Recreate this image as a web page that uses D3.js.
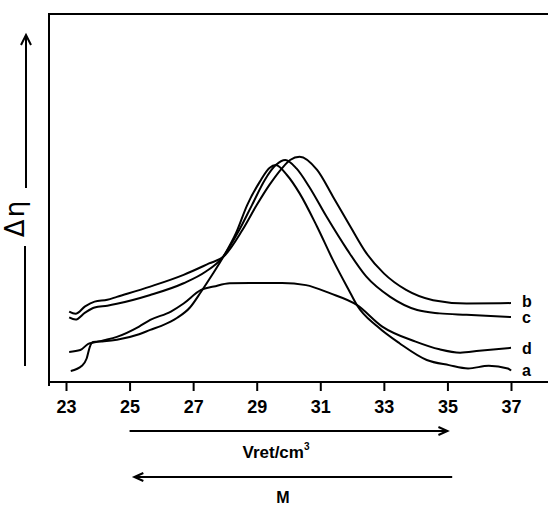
<!DOCTYPE html>
<html>
<head>
<meta charset="utf-8">
<script src="https://cdn.jsdelivr.net/npm/d3@7/dist/d3.min.js"></script>
<style>
  body { margin: 0; background: #fff; }
  text { font-family: "Liberation Sans", Arial, sans-serif; fill: #000; }
</style>
</head>
<body>
<div id="myChart"></div>
<script>

// Retention volume ticks (cm3)
var xTicks = [23, 25, 27, 29, 31, 33, 35, 37];

// Curve a : retention volume / delta eta (arbitrary units)
var volA = [23.15, 23.5, 23.65, 23.75, 23.85, 24.2, 24.6, 25.3, 25.65, 26.0, 26.5, 26.9, 27.25, 27.6, 27.95, 28.35, 28.7, 29.1, 29.4, 29.6, 29.95, 30.35, 30.9, 31.4, 31.95, 32.15, 32.8, 33.5, 34.35, 35.05, 35.65, 36.3, 36.9, 37.0];
var etaA = [3.0, 4.4, 6.4, 9.6, 10.9, 11.1, 11.5, 13.0, 14.2, 15.3, 17.5, 20.3, 24.6, 29.2, 34.1, 40.6, 48.2, 54.6, 58.3, 59.1, 56.4, 51.4, 42.3, 33.2, 24.2, 21.0, 15.1, 10.5, 6.0, 4.6, 3.7, 4.4, 3.7, 3.1];

// Curve b
var volB = [23.1, 23.3, 23.6, 23.9, 24.3, 24.6, 25.65, 26.7, 27.5, 27.95, 28.55, 29.0, 29.4, 29.8, 30.05, 30.35, 30.9, 31.4, 31.95, 32.45, 33.0, 33.7, 34.55, 35.6, 37.0];
var etaB = [19.2, 18.6, 20.6, 21.9, 22.4, 23.2, 26.0, 29.2, 32.3, 34.1, 41.4, 48.2, 53.7, 58.3, 60.5, 61.4, 57.8, 50.5, 42.3, 35.1, 29.6, 25.1, 22.3, 21.4, 21.5];

// Curve c
var volC = [23.1, 23.3, 23.6, 23.9, 24.3, 24.6, 25.65, 26.7, 27.4, 27.9, 28.45, 28.85, 29.25, 29.6, 29.9, 30.25, 30.65, 31.2, 31.85, 32.45, 33.2, 34.05, 34.75, 35.6, 37.0];
var etaC = [17.6, 17.0, 18.9, 20.3, 20.8, 21.3, 23.7, 26.9, 30.1, 33.7, 41.4, 48.2, 55.0, 59.1, 60.5, 58.2, 53.2, 45.0, 36.0, 28.7, 23.2, 19.6, 18.7, 18.3, 17.7];

// Curve d
var volD = [23.1, 23.45, 23.7, 23.9, 24.2, 24.6, 25.3, 25.65, 26.3, 26.7, 27.25, 27.65, 28.15, 28.8, 29.8, 30.55, 31.3, 32.15, 32.95, 34.0, 34.75, 35.4, 36.0, 37.0];
var etaD = [8.2, 8.7, 10.4, 10.8, 11.4, 12.3, 15.1, 16.9, 19.2, 21.4, 25.1, 26.0, 26.9, 27.0, 27.0, 26.4, 24.2, 21.0, 15.1, 11.0, 8.9, 8.0, 8.5, 9.3];

var seriesNames = ["a", "b", "c", "d"];
var seriesVol = [volA, volB, volC, volD];
var seriesEta = [etaA, etaB, etaC, etaD];

// Main svg window Sizes
var width = 548;
var height = 505;

var frame = {left: 49, top: 14, bottom: 382};

var canvass = d3.select("#myChart")
	.append("svg")
	.attr("width", width)
	.attr("height", height);

// scales
var xScale = d3.scaleLinear()
	.domain([23, 37])
	.range([66, 511]);

var yScale = d3.scaleLinear()
	.domain([0, 100])
	.range([frame.bottom, frame.top + 1]);

// frame: left and top border, bottom axis line
canvass.append("path")
	.attr("d", "M" + frame.left + "," + (frame.bottom + 4) + "V" + frame.top + "H" + width)
	.attr("fill", "none")
	.attr("stroke", "#000")
	.attr("stroke-width", 2);

canvass.append("line")
	.attr("x1", frame.left).attr("x2", width)
	.attr("y1", frame.bottom).attr("y2", frame.bottom)
	.attr("stroke", "#000")
	.attr("stroke-width", 2);

// x axis ticks
var xAxis = canvass.append("g")
	.attr("transform", "translate(0," + frame.bottom + ")")
	.call(d3.axisBottom(xScale).tickValues(xTicks).tickSize(9).tickSizeOuter(0).tickPadding(9));

xAxis.select(".domain").remove();
xAxis.selectAll("line").attr("stroke-width", 2);
xAxis.selectAll("text")
	.style("font-family", "'Liberation Sans', Arial, sans-serif")
	.style("font-size", "18px")
	.style("font-weight", "bold");

// the curves
var line = d3.line()
	.x(function(d) { return xScale(d[0]); })
	.y(function(d) { return yScale(d[1]); })
	.curve(d3.curveMonotoneX);

var curveGrp = canvass.append("g");

seriesNames.forEach(function(name, i) {
	var pts = seriesVol[i].map(function(v, j) { return [v, seriesEta[i][j]]; });
	curveGrp.append("path")
		.datum(pts)
		.attr("d", line)
		.attr("fill", "none")
		.attr("stroke", "#000")
		.attr("stroke-width", 2)
		.attr("stroke-linejoin", "round");

	// end labels, b pushed up a little so it clears c
	var last = pts[pts.length - 1];
	canvass.append("text")
		.attr("x", xScale(last[0]) + 11)
		.attr("y", yScale(last[1]) + (name == "b" ? -2 : 0))
		.attr("dy", "0.36em")
		.style("font-size", "16px")
		.style("font-weight", "bold")
		.text(name);
});

// y label with arrow
var yLab = 26;
canvass.append("line")
	.attr("x1", yLab).attr("x2", yLab)
	.attr("y1", 188).attr("y2", 36)
	.attr("stroke", "#000").attr("stroke-width", 2);
canvass.append("path")
	.attr("d", "M" + (yLab - 5) + ",45L" + yLab + ",35L" + (yLab + 5) + ",45")
	.attr("fill", "none").attr("stroke", "#000").attr("stroke-width", 2);
canvass.append("line")
	.attr("x1", yLab - 1).attr("x2", yLab - 1)
	.attr("y1", 246).attr("y2", 366)
	.attr("stroke", "#000").attr("stroke-width", 2);
canvass.append("text")
	.attr("transform", "translate(" + (yLab - 2) + ",218) rotate(-90)")
	.style("text-anchor", "middle")
	.style("font-family", "'DejaVu Sans', sans-serif")
	.style("font-size", "26px")
	.style("letter-spacing", "2px")
	.text("\u0394\u03b7");

// arrows under the axis
function hArrow(x1, x2, y) {
	var dir = x2 > x1 ? 1 : -1;
	canvass.append("line")
		.attr("x1", x1).attr("x2", x2)
		.attr("y1", y).attr("y2", y)
		.attr("stroke", "#000").attr("stroke-width", 2);
	canvass.append("path")
		.attr("d", "M" + (x2 - dir * 9) + "," + (y - 4) + "L" + x2 + "," + y + "L" + (x2 - dir * 9) + "," + (y + 4))
		.attr("fill", "none").attr("stroke", "#000").attr("stroke-width", 2);
}

hArrow(xScale(25), xScale(35), 431);
hArrow(xScale(35.15), xScale(25.15), 477);

var vret = canvass.append("text")
	.attr("x", 276)
	.attr("y", 458)
	.style("text-anchor", "middle")
	.style("font-size", "17px")
	.style("font-weight", "bold");
vret.append("tspan").text("Vret/cm");
vret.append("tspan").attr("dy", "-8").style("font-size", "10px").text("3");

canvass.append("text")
	.attr("x", 283)
	.attr("y", 503)
	.style("text-anchor", "middle")
	.style("font-size", "16px")
	.style("font-weight", "bold")
	.text("M");

</script>
</body>
</html>
